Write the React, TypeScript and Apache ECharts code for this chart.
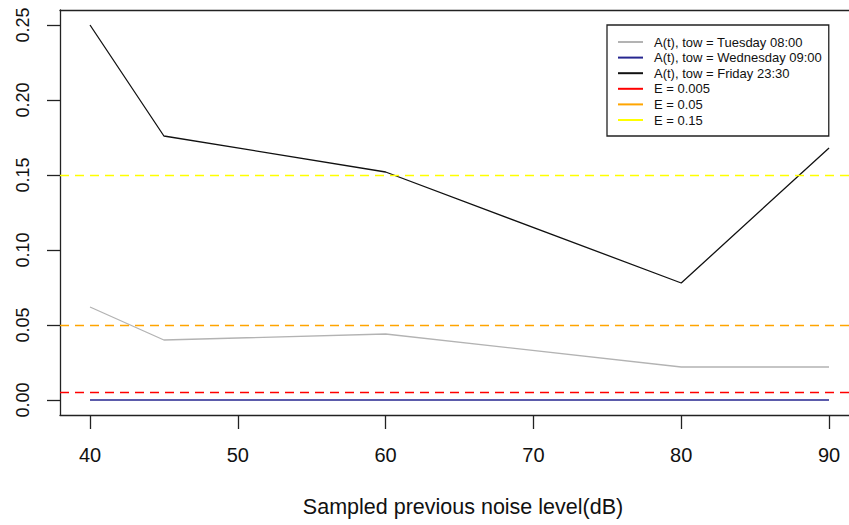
import React, { useEffect, useRef } from "react";
import * as echarts from "echarts";

const noiseLevels = [40, 45, 60, 80, 90];
const tuesday = [0.062, 0.040, 0.044, 0.022, 0.022];
const wednesday = [0, 0, 0, 0, 0];
const friday = [0.25, 0.176, 0.152, 0.078, 0.168];
const thresholds = [0.005, 0.05, 0.15];
const thresholdNames = ["E = 0.005", "E = 0.05", "E = 0.15"];
const thresholdColors = ["#ff0000", "#ffa500", "#ffff00"];
const xTicks = [40, 50, 60, 70, 80, 90];
const yTicks = [0, 0.05, 0.1, 0.15, 0.2, 0.25];

const FONT = "Liberation Sans, Arial, Helvetica, sans-serif";
const X_MIN = 37.97;
const X_MAX = 91.35;

export default function App() {
  const ref = useRef<HTMLDivElement>(null);
  useEffect(() => {
    if (!ref.current) return;
    const chart = echarts.init(ref.current, undefined, { renderer: "svg" });
    const pair = (ys: number[]) => noiseLevels.map((x, i) => [x, ys[i]]);
    const lineSeries = [
      { name: "A(t), tow = Tuesday 08:00", data: pair(tuesday), color: "#b3b3b3" },
      { name: "A(t), tow = Wednesday 09:00", data: pair(wednesday), color: "#262690" },
      { name: "A(t), tow = Friday 23:30", data: pair(friday), color: "#111111" },
    ].map((s) => ({
      type: "line",
      name: s.name,
      data: s.data,
      color: s.color,
      showSymbol: false,
      symbol: "none",
      lineStyle: { color: s.color, width: 1.3 },
      z: 3,
    }));
    const thresholdSeries = thresholds.map((v, i) => ({
      type: "line",
      name: thresholdNames[i],
      data: [],
      color: thresholdColors[i],
      lineStyle: { color: thresholdColors[i] },
      markLine: {
        silent: true,
        symbol: "none",
        precision: 4,
        label: { show: false },
        lineStyle: { color: thresholdColors[i], type: [9, 6], width: 1.3 },
        data: [{ yAxis: v }],
      },
      z: 2,
    }));
    const boxLine = { show: true, onZero: false, lineStyle: { color: "#222", width: 1.3 } };
    chart.setOption({
      animation: false,
      backgroundColor: "#ffffff",
      textStyle: { fontFamily: FONT },
      grid: {
        left: 60,
        right: 0,
        top: 10,
        bottom: 110,
        show: false,
      },
      legend: {
        orient: "vertical",
        left: 607,
        top: 25,
        padding: [10, 7, 9, 11],
        itemGap: 1.6,
        itemWidth: 25,
        itemHeight: 2,
        icon: "rect",
        selectedMode: false,
        borderColor: "#222",
        borderWidth: 1.3,
        borderRadius: 0,
        backgroundColor: "#ffffff",
        textStyle: { fontSize: 13, color: "#111", fontFamily: FONT, lineHeight: 14, padding: [0, 0, 0, 6] },
        data: [...lineSeries.map((s) => s.name), ...thresholdNames],
      },
      xAxis: [
        {
          type: "value",
          position: "bottom",
          min: X_MIN,
          max: X_MAX,
          splitLine: { show: false },
          axisLine: boxLine,
          axisTick: { show: true, length: 14, lineStyle: { color: "#222", width: 1.3 }, customValues: xTicks },
          axisLabel: {
            customValues: xTicks,
            fontSize: 20,
            color: "#111",
            margin: 30,
            fontFamily: FONT,
          },
          name: "Sampled previous noise level(dB)",
          nameLocation: "middle",
          nameGap: 81,
          nameTextStyle: { fontSize: 21.5, color: "#111", fontFamily: FONT, padding: [0, 0, 0, 17] },
        },
        {
          type: "value",
          position: "top",
          min: X_MIN,
          max: X_MAX,
          splitLine: { show: false },
          axisLine: boxLine,
          axisTick: { show: false },
          axisLabel: { show: false },
        },
      ],
      yAxis: {
        type: "value",
        min: -0.01,
        max: 0.26,
        splitLine: { show: false },
        axisLine: boxLine,
        axisTick: { show: true, length: 13, lineStyle: { color: "#222", width: 1.3 }, customValues: yTicks },
        axisLabel: {
          customValues: yTicks,
          rotate: 90,
          fontSize: 18,
          color: "#111",
          margin: 28,
          fontFamily: FONT,
          formatter: (v: number) => v.toFixed(2),
        },
      },
      series: [...lineSeries, ...thresholdSeries],
    });
    return () => chart.dispose();
  }, []);
  return (
    <div
      ref={ref}
      style={{ position: "absolute", left: 0, top: 0, width: 849, height: 525 }}
    />
  );
}
